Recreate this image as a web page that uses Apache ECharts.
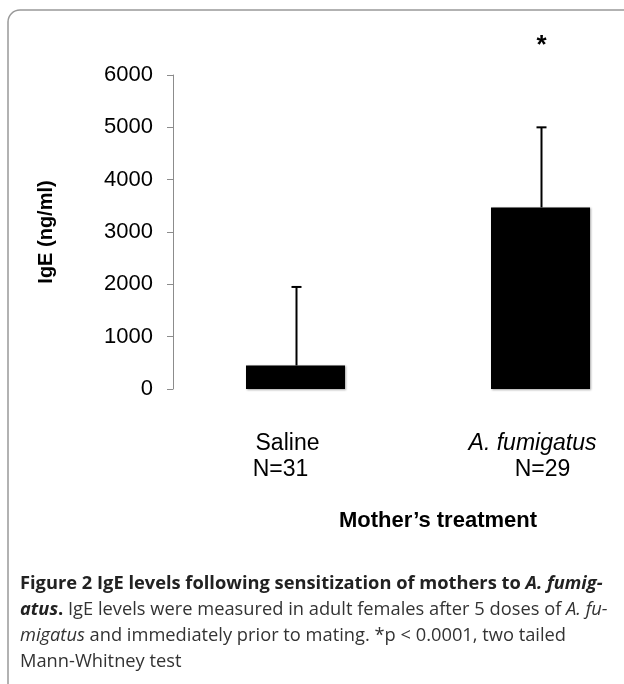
<!DOCTYPE html>
<html>
<head>
<meta charset="utf-8">
<script src="https://cdn.jsdelivr.net/npm/echarts@6/dist/echarts.min.js"></script>
<style>
  html, body { margin: 0; padding: 0; background: #fff; }
  #chart { width: 624px; height: 684px; }
</style>
</head>
<body>
<div id="chart"></div>
<script>
// data
var categories = ['Saline', 'A. fumigatus']
var groupN = [31, 29]
var meanIgE = [450, 3470]
var errTop = [1950, 5000]
var sigMark = ['', '*']
var yTicks = [0, 1000, 2000, 3000, 4000, 5000, 6000]

var chart = echarts.init(document.getElementById('chart'))

var capFont = '"Open Sans", sans-serif'
var capSize = 18.3
var capStyles = {
  b: { fontFamily: capFont, fontSize: capSize, fontWeight: 'bold', fill: '#222' },
  bi: { fontFamily: capFont, fontSize: capSize, fontWeight: 'bold', fontStyle: 'italic', fill: '#222' },
  n: { fontFamily: capFont, fontSize: capSize, fill: '#333' },
  i: { fontFamily: capFont, fontSize: capSize, fontStyle: 'italic', fill: '#333' }
}
// caption lines, keeps the original hyphenation
var captionLines = [
  '{b|Figure 2 IgE levels following sensitization of mothers to }{bi|A. fumig-}',
  '{bi|atus}{b|.}{n| IgE levels were measured in adult females after 5 doses of }{i|A. fu-}',
  '{i|migatus}{n| and immediately prior to mating. *p < 0.0001, two tailed}',
  '{n|Mann-Whitney test}'
]

var graphics = [{
  type: 'rect',
  shape: { x: 8, y: 10, width: 700, height: 720, r: [12, 0, 0, 0] },
  style: { fill: 'none', stroke: '#999', lineWidth: 1.5 },
  silent: true
}, {
  type: 'text',
  x: 438,
  y: 521,
  style: {
    text: 'Mother\u2019s treatment',
    font: 'bold 22px "Liberation Sans", Arial, sans-serif',
    fill: '#000',
    textAlign: 'center',
    textVerticalAlign: 'middle'
  }
}]
captionLines.forEach(function (line, i) {
  graphics.push({
    type: 'text',
    x: 20,
    y: 584 + i * 26,
    style: {
      text: line,
      rich: capStyles,
      textAlign: 'left',
      textVerticalAlign: 'middle'
    }
  })
})

chart.setOption({
  backgroundColor: '#fff',
  animation: false,
  textStyle: { fontFamily: '"Liberation Sans", Arial, sans-serif' },
  grid: {
    left: 173,
    top: 75,
    width: 490,
    height: 314,
    containLabel: false,
    outerBoundsMode: 'none'
  },
  xAxis: {
    type: 'category',
    data: categories,
    axisLine: { show: false },
    axisTick: { show: false },
    splitLine: { show: false },
    axisLabel: {
      interval: 0,
      margin: 42,
      padding: [0, 16, 0, 0],
      formatter: function (val, idx) {
        if (idx === 1) {
          return '{it|' + val + '}\n{nr|N=' + groupN[idx] + '}'
        }
        return '{rg|' + val + '}\n{nl|N=' + groupN[idx] + '}'
      },
      rich: {
        rg: { fontSize: 23, color: '#000', lineHeight: 26 },
        it: { fontSize: 23, color: '#000', fontStyle: 'italic', lineHeight: 26 },
        nl: { fontSize: 23, color: '#000', lineHeight: 26, padding: [0, 14, 0, 0] },
        nr: { fontSize: 23, color: '#000', lineHeight: 26, padding: [0, 0, 0, 20] }
      }
    }
  },
  yAxis: {
    type: 'value',
    min: yTicks[0],
    max: yTicks[yTicks.length - 1],
    interval: 1000,
    name: 'IgE (ng/ml)',
    nameLocation: 'middle',
    nameRotate: 90,
    nameGap: 117,
    nameTextStyle: { fontSize: 20, fontWeight: 'bold', color: '#000' },
    axisLine: { show: true, lineStyle: { color: '#8c8c8c', width: 1 } },
    axisTick: { show: true, length: 6, lineStyle: { color: '#8c8c8c' } },
    splitLine: { show: false },
    axisLabel: {
      fontSize: 22,
      color: '#000',
      margin: 20,
      formatter: function (v) { return String(v) }
    }
  },
  series: [{
    type: 'bar',
    data: meanIgE,
    barWidth: 99,
    itemStyle: {
      color: '#000',
      shadowColor: 'rgba(0,0,0,0.35)',
      shadowBlur: 2,
      shadowOffsetX: 1,
      shadowOffsetY: 1
    },
    z: 2
  }, {
    type: 'custom',
    data: categories.map(function (c, i) { return [i, meanIgE[i], errTop[i]] }),
    z: 3,
    renderItem: function (params, api) {
      var base = api.coord([api.value(0), api.value(1)])
      var top = api.coord([api.value(0), api.value(2)])
      var x = Math.round(base[0]) + 0.5
      var kids = [{
        type: 'line',
        shape: { x1: x, y1: base[1], x2: x, y2: top[1] },
        style: { stroke: '#000', lineWidth: 2 }
      }, {
        type: 'line',
        shape: { x1: x - 5, y1: top[1], x2: x + 5, y2: top[1] },
        style: { stroke: '#000', lineWidth: 2 }
      }]
      var mark = sigMark[params.dataIndex]
      if (mark) {
        kids.push({
          type: 'text',
          x: x,
          y: top[1] - 82,
          style: {
            text: mark,
            font: 'bold 26px "Liberation Sans", Arial, sans-serif',
            fill: '#000',
            textAlign: 'center',
            textVerticalAlign: 'middle'
          }
        })
      }
      return { type: 'group', children: kids }
    }
  }],
  graphic: graphics
})
</script>
</body>
</html>
